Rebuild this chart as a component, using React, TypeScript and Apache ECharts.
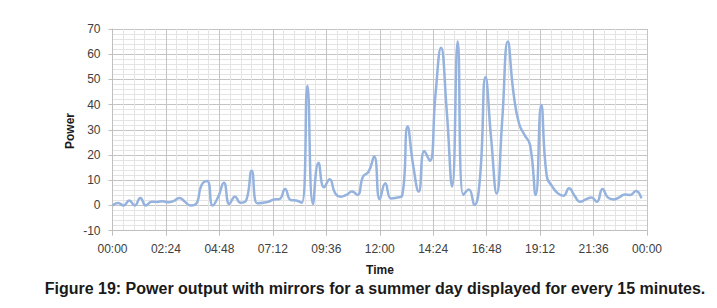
import React, { useEffect, useRef } from "react";
import * as echarts from "echarts";

const stepMinutes = 15;
const powerValues: number[] = [
  0, 1, 0, 2, 0, 3, 0, 1.5, 1.4, 1.7, 1.3, 1.8, 3, 1.5, 0, 0.6,
  8.1, 9.7, 0, 3.5, 9, 0.6, 3.5, 1.1, 2, 13.8, 0.9, 1.1, 1.5, 2.4, 2.6, 6.5,
  2.2, 2, 1.1, 47.5, 0.6, 17, 7.2, 10.4, 4.8, 3.5, 4.2, 5.5, 4.2, 11.5, 13.4, 19.4,
  2.5, 8.8, 2.8, 3.1, 3.8, 31.3, 16, 5.5, 21.6, 17.7, 43.8, 62.6, 38.5, 7.5, 65, 4.2,
  6.3, 0.2, 10.8, 51, 26.7, 4.8, 34, 65, 45, 32.6, 28, 24, 4.2, 39.9, 11.5, 7.5,
  4.8, 3.9, 6.8, 3.8, 1.5, 2.4, 3.2, 1.5, 6.5, 3.1, 2.4, 3.2, 4.4, 4.2, 5.7, 2.8,
];
const xTickMinutes = 144;
const yMin = -10;
const yMax = 70;
const yInterval = 10;
const caption =
  "Figure 19: Power output with mirrors for a summer day displayed for every 15 minutes.";

function fmtTime(m: number): string {
  const mm = Math.round(m) % 1440;
  const h = Math.floor(mm / 60);
  const mi = mm % 60;
  return String(h).padStart(2, "0") + ":" + String(mi).padStart(2, "0");
}

export default function App() {
  const ref = useRef<HTMLDivElement>(null);
  useEffect(() => {
    if (!ref.current) return;
    const chart = echarts.init(ref.current, undefined, { renderer: "svg" });
    const data = powerValues.map((v, i) => [i * stepMinutes, v]);
    const labelFont = "'Liberation Sans', Arial, sans-serif";
    chart.setOption({
      animation: false,
      backgroundColor: "#ffffff",
      grid: { left: 112.5, right: 70, top: 29, bottom: 77.3, containLabel: false },
      xAxis: {
        type: "value",
        min: 0,
        max: 1440,
        interval: xTickMinutes,
        axisLine: { show: true, onZero: false, lineStyle: { color: "#bfbfbf", width: 1 } },
        axisTick: { show: true, length: 5, lineStyle: { color: "#bfbfbf" } },
        axisLabel: {
          margin: 12,
          fontSize: 12,
          color: "#404040",
          fontFamily: labelFont,
          formatter: (v: number) => fmtTime(v),
        },
        splitLine: { show: true, lineStyle: { color: "#c4c4c4", width: 1 } },
        minorTick: { show: false, splitNumber: 5 },
        minorSplitLine: { show: true, lineStyle: { color: "#e4e4e4", width: 1 } },
      },
      yAxis: {
        type: "value",
        min: yMin,
        max: yMax,
        interval: yInterval,
        axisLine: { show: true, lineStyle: { color: "#bfbfbf", width: 1 } },
        axisTick: { show: true, length: 4, lineStyle: { color: "#bfbfbf" } },
        axisLabel: {
          margin: 12,
          fontSize: 12,
          color: "#404040",
          fontFamily: labelFont,
        },
        splitLine: { show: true, lineStyle: { color: "#c4c4c4", width: 1 } },
        minorTick: { show: false, splitNumber: 5 },
        minorSplitLine: { show: true, lineStyle: { color: "#e4e4e4", width: 1 } },
      },
      series: [
        {
          type: "line",
          data,
          smooth: 0.5,
          showSymbol: false,
          symbol: "none",
          lineStyle: { color: "#95b3de", width: 2.5 },
        },
      ],
      graphic: [
        {
          type: "text",
          x: 380,
          y: 270,
          style: {
            text: "Time",
            font: "bold 12px 'Liberation Sans', Arial, sans-serif",
            fill: "#1a1a1a",
            align: "center",
            verticalAlign: "middle",
          },
        },
        {
          type: "text",
          x: 69.5,
          y: 131,
          rotation: Math.PI / 2,
          style: {
            text: "Power",
            font: "bold 12px 'Liberation Sans', Arial, sans-serif",
            fill: "#1a1a1a",
            align: "center",
            verticalAlign: "middle",
          },
        },
        {
          type: "text",
          x: 375,
          y: 288,
          style: {
            text: caption,
            font: "bold 16px 'Liberation Sans', Arial, sans-serif",
            fill: "#1a1a1a",
            align: "center",
            verticalAlign: "middle",
          },
        },
      ],
    });
    return () => chart.dispose();
  }, []);
  return (
    <div
      ref={ref}
      style={{ position: "absolute", left: 0, top: 0, width: 717, height: 308 }}
    />
  );
}
